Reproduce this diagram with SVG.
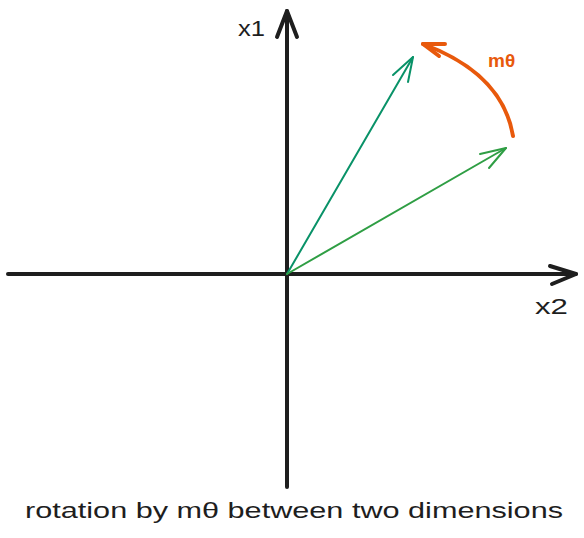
<svg xmlns="http://www.w3.org/2000/svg" width="584" height="538" viewBox="0 0 584 538">
<style>
  .axis{fill:none;stroke:#1e1e1e;stroke-width:4;stroke-linecap:round;stroke-linejoin:round}
  .vec1{fill:none;stroke:#099268;stroke-width:2;stroke-linecap:round;stroke-linejoin:round}
  .vec2{fill:none;stroke:#2f9e44;stroke-width:2;stroke-linecap:round;stroke-linejoin:round}
  .rot{fill:none;stroke:#e8590c;stroke-width:4;stroke-linecap:round;stroke-linejoin:round}
  .lbl{font-family:"Liberation Sans",Arial,sans-serif;fill:#1e1e1e}
</style>
<rect width="584" height="538" fill="#ffffff"/>
<g id="connectors">
  <g id="axis-x2">
    <path class="axis" d="M8 274 L576 274"/>
    <path class="axis" d="M550 266 L576 274 L552 284"/>
  </g>
  <g id="axis-x1">
    <path class="axis" d="M287 487 L287 11"/>
    <path class="axis" d="M277 37 L287 11 L297 37"/>
  </g>
  <g id="vector-rotated">
    <path class="vec1" d="M287 274 L413 57"/>
    <path class="vec1" d="M393 75 L413 57 L408 82"/>
  </g>
  <g id="vector-original">
    <path class="vec2" d="M287 274 L506 148"/>
    <path class="vec2" d="M480 154 L506 148 L489 168"/>
  </g>
  <g id="rotation-arc">
    <path class="rot" d="M513 136 C507 100 482 66 423 44"/>
    <path class="rot" d="M445 44 L423 44 L439 56"/>
  </g>
</g>
<g id="label-x1"><text class="lbl" x="238" y="36" font-size="22" textLength="27" lengthAdjust="spacingAndGlyphs">x1</text></g>
<g id="label-x2"><text class="lbl" x="535" y="314" font-size="22" textLength="33" lengthAdjust="spacingAndGlyphs">x2</text></g>
<g id="label-mtheta"><text class="lbl" x="488" y="67" font-size="19" font-weight="bold" style="fill:#e8590c">mθ</text></g>
<g id="caption"><text class="lbl" x="25" y="518" font-size="22" textLength="538" lengthAdjust="spacingAndGlyphs">rotation by mθ between two dimensions</text></g>
</svg>
